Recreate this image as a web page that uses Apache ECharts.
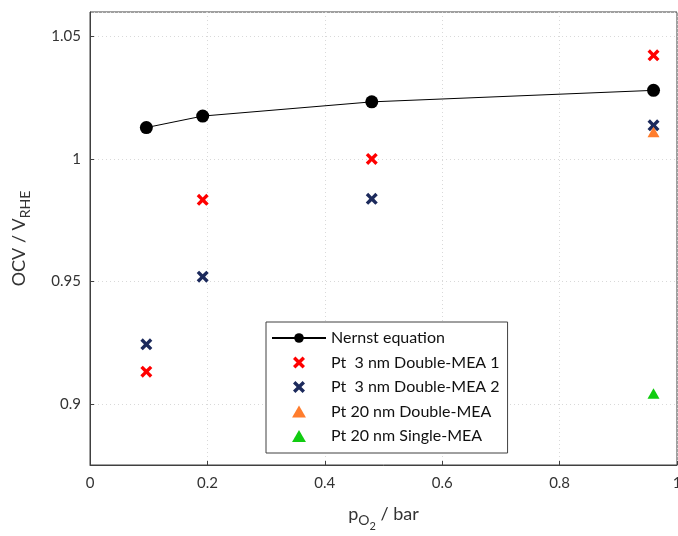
<!DOCTYPE html>
<html><head><meta charset="utf-8">
<script src="https://cdn.jsdelivr.net/npm/echarts@6/dist/echarts.min.js"></script>
<style>html,body{margin:0;padding:0;background:#fff}#c{width:678px;height:536px}</style>
</head><body><div id="c"></div>
<script>
const xTicks = [0, 0.2, 0.4, 0.6, 0.8, 1];
const pO2 = [0.096, 0.192, 0.48, 0.96];
const nernst = [1.0128, 1.0175, 1.0233, 1.028];
const pt3nm1 = [0.9131, 0.9833, 1.0, 1.0423];
const pt3nm2 = [0.9243, 0.9519, 0.9837, 1.0137];
const pt20Double = [[0.96, 1.011]];
const pt20Single = [[0.96, 0.9042]];
const names = ['Nernst equation', 'Pt  3 nm Double-MEA 1', 'Pt  3 nm Double-MEA 2', 'Pt 20 nm Double-MEA', 'Pt 20 nm Single-MEA'];

const X = 'path://M0,2 L2,0 L5,3 L8,0 L10,2 L7,5 L10,8 L8,10 L5,7 L2,10 L0,8 L3,5 Z';
const TRI = 'path://M6,0 L12,10.4 L0,10.4 Z';
const font = 'Lato, "Open Sans", sans-serif';
const zip = (xs, ys) => xs.map((x, i) => [x, ys[i]]);

const chart = echarts.init(document.getElementById('c'), null, {renderer: 'canvas'});
chart.setOption({
  animation: false,
  textStyle: {fontFamily: font},
  grid: {left: 90, top: 12, right: 1, bottom: 71, outerBoundsMode: 'none', containLabel: false,
    show: true, borderColor: '#404040', borderWidth: 1},
  xAxis: {
    type: 'value', min: 0, max: 1, interval: 0.2,
    axisLine: {lineStyle: {color: '#404040'}},
    axisTick: {inside: true, length: 4, lineStyle: {color: '#404040'}},
    axisLabel: {color: '#333', fontSize: 15, margin: 11, fontFamily: font,
      formatter: v => (xTicks.indexOf(+v.toFixed(2)) >= 0 ? String(+v.toFixed(2)) : '')},
    splitLine: {show: true, lineStyle: {color: '#d9d9d9', type: [1, 3]}},
    name: '{a|p}{b|O}{c|2}{a| / bar}', nameLocation: 'middle', nameGap: 32,
    nameTextStyle: {rich: {
      a: {fontSize: 18, color: '#333', fontFamily: font},
      b: {fontSize: 14, color: '#333', fontFamily: font, padding: [12, 0, 0, 0]},
      c: {fontSize: 11, color: '#333', fontFamily: font, padding: [24, 0, 0, 0]}
    }}
  },
  yAxis: {
    type: 'value', min: 0.875, max: 1.06, splitNumber: 4,
    axisLine: {lineStyle: {color: '#404040'}},
    axisTick: {inside: true, length: 4, lineStyle: {color: '#404040'}},
    axisLabel: {color: '#333', fontSize: 15, margin: 9, showMinLabel: false, showMaxLabel: false, fontFamily: font,
      formatter: v => String(+v.toFixed(3))},
    splitLine: {show: true, lineStyle: {color: '#d9d9d9', type: [1, 3]}},
    name: '{a|OCV / V}{b|RHE}', nameLocation: 'middle', nameGap: 58,
    nameTextStyle: {rich: {
      a: {fontSize: 18, color: '#333', fontFamily: font},
      b: {fontSize: 14, color: '#333', fontFamily: font, padding: [12, 0, 0, 0]}
    }}
  },
  legend: {
    orient: 'vertical', left: 266, top: 322,
    padding: [8, 8, 9, 5], itemGap: 8.5, itemWidth: 54, itemHeight: 12,
    borderColor: '#404040', borderWidth: 1, backgroundColor: '#fff',
    textStyle: {fontSize: 16, lineHeight: 14, color: '#111', fontFamily: font},
    data: names
  },
  series: [
    {name: names[0], type: 'line', data: zip(pO2, nernst), symbol: 'circle', symbolSize: 13,
     lineStyle: {color: '#000', width: 1}, itemStyle: {color: '#000'}, z: 3},
    {name: names[1], type: 'scatter', data: zip(pO2, pt3nm1), symbol: X, symbolSize: 12, symbolKeepAspect: true,
     itemStyle: {color: '#ff0000', opacity: 1}},
    {name: names[2], type: 'scatter', data: zip(pO2, pt3nm2), symbol: X, symbolSize: 12, symbolKeepAspect: true,
     itemStyle: {color: '#1c2a5c', opacity: 1}},
    {name: names[3], type: 'scatter', data: pt20Double, symbol: TRI, symbolSize: 12, symbolKeepAspect: true,
     itemStyle: {color: '#ff7d2d', opacity: 1}},
    {name: names[4], type: 'scatter', data: pt20Single, symbol: TRI, symbolSize: 12, symbolKeepAspect: true,
     itemStyle: {color: '#11cc11', opacity: 1}}
  ]
});
</script></body></html>
